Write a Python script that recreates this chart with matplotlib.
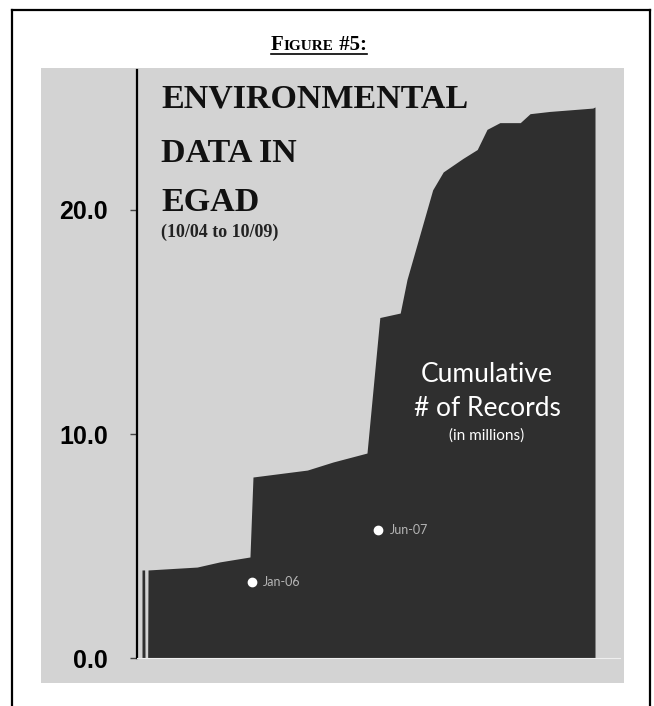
import matplotlib
matplotlib.use('Agg')
import matplotlib.pyplot as plt
from matplotlib.patches import Rectangle
from matplotlib.lines import Line2D

# months since Oct-04, cumulative records (millions)
months = [0, 0.35, 0.4, 0.75, 0.8, 7.3, 10.3, 14.3, 14.7, 21.9, 25.3, 29.8,
          31.5, 34.2, 35.1, 38.5, 39.9, 41.2, 42.5, 44.4, 45.7, 47.4, 50.1,
          51.4, 54.0, 59.7, 60]
records = [3.93, 3.93, 0, 0, 3.93, 4.06, 4.29, 4.51, 8.08, 8.39, 8.75, 9.15,
           15.2, 15.4, 16.9, 20.9, 21.7, 22.0, 22.3, 22.7, 23.6, 23.9, 23.9,
           24.3, 24.4, 24.55, 24.6]

tick_vals = [0, 10, 20]
tick_labels = ['0.0', '10.0', '20.0']

marker_months = [14.6, 31.3]
marker_vals = [3.4, 5.7]
marker_labels = ['Jan-06', 'Jun-07']

title_lines = ['ENVIRONMENTAL', 'DATA IN', 'EGAD']
subtitle = '(10/04 to 10/09)'
inner_lines = ['Cumulative', '# of Records', '(in millions)']

W, H = 654, 706
fig = plt.figure(figsize=(W / 100, H / 100), dpi=100)


def fx(px):
    return px / W


def fy(py):
    return 1 - py / H


# gray panel
fig.patches.append(Rectangle((fx(41), fy(683)), fx(624) - fx(41), fy(68) - fy(683),
                             transform=fig.transFigure, facecolor='#d3d3d3',
                             edgecolor='none', zorder=-5))
# outer frame
for xs, ys in [([12, 12], [10, 706]), ([12, 650], [10, 10]), ([650, 650], [10, 706])]:
    fig.add_artist(Line2D([fx(v) for v in xs], [fy(v) for v in ys], color='black', lw=1.6))

ax = fig.add_axes([fx(137), fy(658), fx(620) - fx(137), fy(70) - fy(658)])
ax.set_zorder(1)
ax.patch.set_visible(False)
ax.fill_between(months, records, color='#2f2f2f', lw=0, zorder=2)
ax.set_xlim((137 - 142) / 7.55, (620 - 142) / 7.55)
ax.set_ylim(0, (658 - 70) / 22.4)

for s in ['top', 'right']:
    ax.spines[s].set_visible(False)
ax.spines['bottom'].set_color('#efefef')
ax.spines['left'].set_color('black')
ax.spines['left'].set_linewidth(1.6)
ax.set_xticks([])
ax.set_yticks(tick_vals)
ax.set_yticklabels(tick_labels, fontsize=18, fontweight='bold', family='Liberation Sans')
ax.tick_params(axis='y', length=5, width=1, pad=16, color='#444444')

# date markers
ax.plot(marker_months, marker_vals, 'o', color='white', ms=6, zorder=3)
for m, v, lab in zip(marker_months, marker_vals, marker_labels):
    ax.annotate(lab, (m, v), xytext=(8, 0), textcoords='offset points', va='center',
                color='#b5b5b5', fontsize=9, family='Lato', zorder=3)

# big title
for txt, base in zip(title_lines, [108, 162, 211]):
    fig.text(fx(161), fy(base), txt, va='baseline', ha='left', family='Liberation Serif',
             fontweight='bold', fontsize=24.5, color='#111111', zorder=5)
fig.text(fx(161), fy(232), subtitle, va='center', ha='left', family='Liberation Serif',
         fontweight='bold', fontsize=13, color='#222222', zorder=5)

# text inside area
for txt, yc, sz in zip(inner_lines, [374, 408, 436], [19, 19, 11]):
    fig.text(fx(487), fy(yc), txt, va='center', ha='center', family='Lato',
             fontsize=sz, color='white', zorder=5)

# FIGURE #5: heading with small caps look
t1 = fig.text(fx(271), fy(50), 'F', va='baseline', ha='left', family='Liberation Serif',
              fontweight='bold', fontsize=15)
t2 = fig.text(0, 0, 'IGURE', va='baseline', ha='left', family='Liberation Serif',
              fontweight='bold', fontsize=11)
t3 = fig.text(0, 0, ' #5:', va='baseline', ha='left', family='Liberation Serif',
              fontweight='bold', fontsize=15)
fig.canvas.draw()
r = fig.canvas.get_renderer()
b1 = t1.get_window_extent(r)
t2.set_position((b1.x1 / W, fy(50)))
fig.canvas.draw()
b2 = t2.get_window_extent(r)
t3.set_position((b2.x1 / W, fy(50)))
fig.canvas.draw()
b3 = t3.get_window_extent(r)
fig.add_artist(Line2D([b1.x0 / W, b3.x1 / W], [fy(54), fy(54)], color='black', lw=1.2))

fig.savefig('out.png', dpi=100)
